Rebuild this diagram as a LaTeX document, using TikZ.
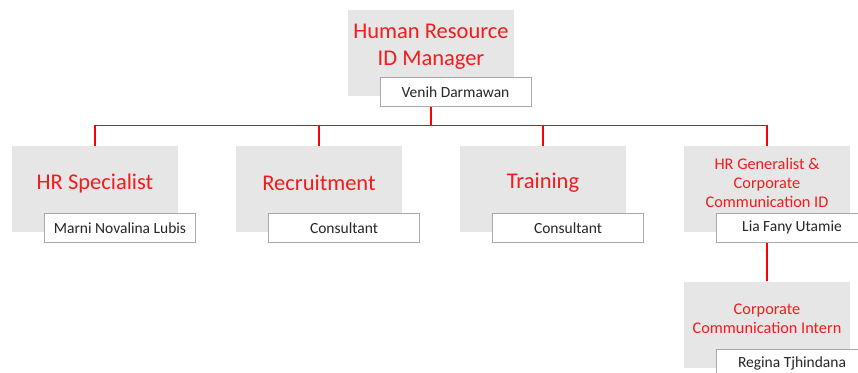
\documentclass[tikz,border=0pt]{standalone}
\usepackage{fontspec}
\setmainfont{Carlito}
\usetikzlibrary{positioning}
\definecolor{hrred}{HTML}{F21C1C}
\definecolor{boxgray}{HTML}{E6E6E6}
\definecolor{edgegray}{HTML}{A8A8A8}
\definecolor{nametext}{HTML}{262626}
\tikzset{
	role/.style={fill=boxgray, minimum width=166pt, minimum height=86pt, inner sep=0pt},
	rolename/.style={text=hrred, align=center, yshift=6pt, font=\fontsize{22.5}{27}\selectfont},
	rolesmall/.style={text=hrred, align=center, yshift=6pt, font=\fontsize{16.3}{18.8}\selectfont},
	person/.style={draw=edgegray, fill=white, minimum width=151pt, minimum height=29pt, inner sep=0pt, text=nametext, font=\fontsize{15.5}{18}\selectfont},
	link/.style={draw=red, line width=1.2pt}
}

\begin{document}
\begin{tikzpicture}[x=1pt, y=-1pt]
	\useasboundingbox (0,0) rectangle (858,372);
	\begin{scope}
	\clip (0,0) rectangle (858,372);
	% cajas de cargos
	\node [role, label={[rolename]center:Human Resource\\ID Manager}] (mgr) at (431,52.5) {};
	\node [role, label={[rolename]center:HR Specialist}] (hrs) at (95,189) {};
	\node [role, label={[rolename]center:Recruitment}] (rec) at (319,189) {};
	\node [role, label={[rolename]center:Training}] (trn) at (543,189) {};
	\node [role, label={[rolesmall]center:HR Generalist \&\\Corporate\\Communication ID}] (gen) at (767,189) {};
	\node [role, label={[rolesmall]center:Corporate\\Communication Intern}] (intern) at (767,324.5) {};
	% conexiones
	\coordinate (bus) at (431,125.5);
	\draw [link] (mgr) -- (bus); % baja del gerente
	\draw [link] (hrs.north) |- (bus) -| (gen.north); % linea horizontal
	\foreach \n in {rec,trn}
		\draw [link] (\n.north) -- (\n |- bus);
	\draw [link] (gen) -- (intern.north);
	% nombres
	\node [person] (mgrname) at ([xshift=24.5pt, yshift=4pt]mgr.south) {Venih Darmawan};
	\node [person] (hrsname) at ([xshift=25pt, yshift=4.5pt]hrs.south) {Marni Novalina Lubis};
	\node [person] (recname) at ([xshift=25pt, yshift=4.5pt]rec.south) {Consultant};
	\node [person] (trnname) at ([xshift=25pt, yshift=4.5pt]trn.south) {Consultant};
	\node [person] (genname) at ([xshift=25pt, yshift=4.5pt]gen.south) {Lia Fany Utamie};
	\node [person] (internname) at ([xshift=25pt, yshift=4.5pt]intern.south) {Regina Tjhindana};
	\end{scope}
\end{tikzpicture}
\end{document}
